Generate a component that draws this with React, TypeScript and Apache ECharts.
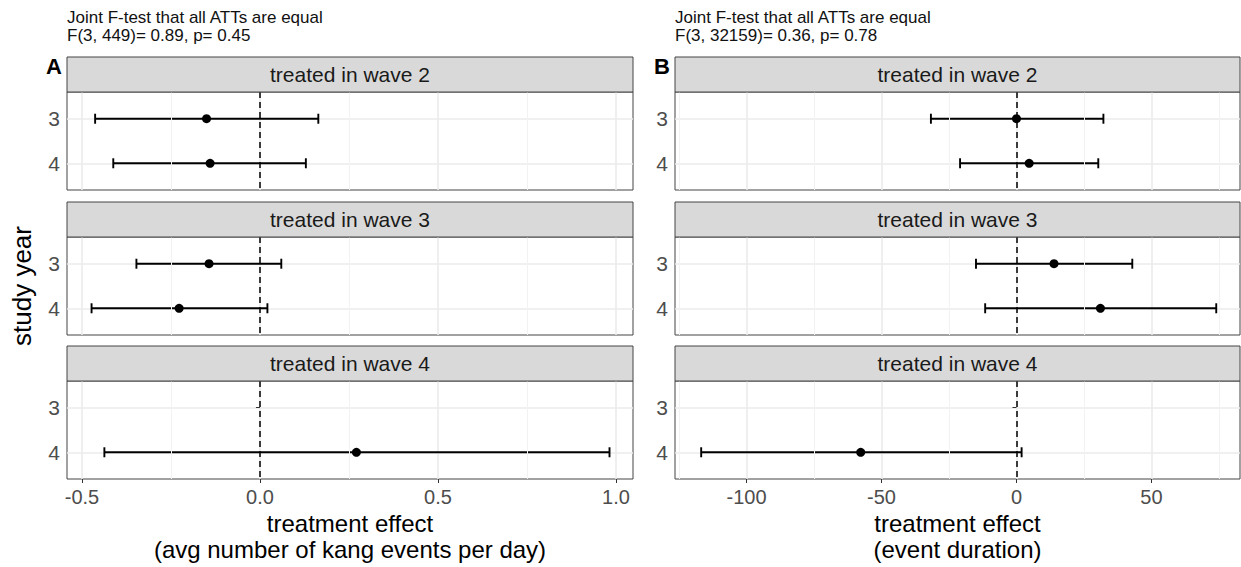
import React, { useEffect, useRef } from 'react';
import * as echarts from 'echarts';

const FONT = '"Liberation Sans", "Nimbus Sans", Arial, sans-serif';

const studyYears = [3, 4];
const waveLabels = ['treated in wave 2', 'treated in wave 3', 'treated in wave 4'];

// Panel A: avg number of kang events per day (rows: waves 2..4, columns: study year 3, 4)
const kangEstimate = [[-0.150, -0.140], [-0.143, -0.227], [null, 0.271]];
const kangLower = [[-0.463, -0.412], [-0.347, -0.473], [null, -0.437]];
const kangUpper = [[0.164, 0.129], [0.060, 0.021], [null, 0.982]];
const kangTicks = [-0.5, 0, 0.5, 1.0];
const kangMinorTicks = [-0.25, 0.25, 0.75];
const kangTitle = 'Joint F-test that all ATTs are equal\nF(3, 449)= 0.89, p= 0.45';
const kangAxisName = 'treatment effect\n(avg number of kang events per day)';

// Panel B: event duration
const durEstimate = [[0.0, 4.7], [13.9, 31.1], [null, -57.7]];
const durLower = [[-31.7, -20.9], [-15.0, -11.6], [null, -116.8]];
const durUpper = [[32.2, 30.3], [42.9, 74.0], [null, 1.9]];
const durTicks = [-100, -50, 0, 50];
const durMinorTicks = [-125, -75, -25, 25, 75];
const durTitle = 'Joint F-test that all ATTs are equal\nF(3, 32159)= 0.36, p= 0.78';
const durAxisName = 'treatment effect\n(event duration)';

const panelTops = [92, 237, 381];
const panelHeight = 98;
const stripHeight = 35;

const panels = [
  {
    tag: 'A', left: 67, width: 566, min: -0.542, max: 1.048,
    est: kangEstimate, lo: kangLower, hi: kangUpper,
    ticks: kangTicks, minor: kangMinorTicks, fmt: (v: number) => v.toFixed(1),
    title: kangTitle, axisName: kangAxisName,
  },
  {
    tag: 'B', left: 675, width: 565, min: -126.5, max: 82.8,
    est: durEstimate, lo: durLower, hi: durUpper,
    ticks: durTicks, minor: durMinorTicks, fmt: (v: number) => String(Math.round(v)),
    title: durTitle, axisName: durAxisName,
  },
];

function buildOption() {
  const grid: any[] = [];
  const xAxis: any[] = [];
  const yAxis: any[] = [];
  const series: any[] = [];
  const graphic: any[] = [];
  const title: any[] = [];

  panels.forEach((p, pi) => {
    title.push({
      text: p.title, left: p.left, top: 8, padding: 0,
      textStyle: { fontSize: 17, fontWeight: 'normal', lineHeight: 18, color: '#111', fontFamily: FONT },
    });
    graphic.push({
      type: 'text', left: p.left - 21, top: 55,
      style: { text: p.tag, fontSize: 22, fontWeight: 'bold', fill: '#000', fontFamily: FONT },
    });
    waveLabels.forEach((w, f) => {
      const idx = pi * 3 + f;
      const top = panelTops[f];
      grid.push({
        left: p.left, top, width: p.width, height: panelHeight,
        show: true, borderColor: '#444', borderWidth: 1, backgroundColor: 'transparent',
        outerBoundsMode: 'none',
      });
      const bottom = f === 2;
      xAxis.push({
        gridIndex: idx, type: 'value', min: p.min, max: p.max,
        axisLine: { show: false },
        axisTick: { show: bottom, customValues: p.ticks, length: 4, lineStyle: { color: '#333', width: 1 } },
        axisLabel: {
          show: bottom, customValues: p.ticks, formatter: (v: number) => p.fmt(v),
          color: '#4d4d4d', fontSize: 20, margin: 8, fontFamily: FONT,
        },
        splitLine: { show: true, lineStyle: { color: '#ebebeb', width: 1.6 } },
        name: bottom ? p.axisName : '',
        nameLocation: 'middle', nameGap: 31,
        nameTextStyle: { fontSize: 24, lineHeight: 26, color: '#000', fontFamily: FONT },
      });
      yAxis.push({
        gridIndex: idx, type: 'value', min: 2.4, max: 4.6, inverse: true, splitNumber: 2,
        axisLine: { show: false },
        axisTick: { show: true, customValues: studyYears, length: 4, lineStyle: { color: '#333', width: 1 } },
        axisLabel: { customValues: studyYears, color: '#4d4d4d', fontSize: 21, margin: 7, fontFamily: FONT },
        splitLine: { show: true, lineStyle: { color: '#ebebeb', width: 1.6 } },
      });

      // minor grid lines
      series.push({
        type: 'line', xAxisIndex: idx, yAxisIndex: idx, data: [], z: 1, silent: true,
        markLine: {
          silent: true, symbol: 'none', label: { show: false }, animation: false,
          lineStyle: { color: '#f2f2f2', width: 1, type: 'solid' },
          data: p.minor.map((v) => ({ xAxis: v })),
        },
      });

      const barData: any[] = [];
      const ptData: any[] = [];
      studyYears.forEach((yr, i) => {
        const lo = p.lo[f][i];
        const hi = p.hi[f][i];
        const est = p.est[f][i];
        if (lo != null && hi != null) barData.push([lo, hi, yr]);
        if (est != null) ptData.push([est, yr]);
      });

      series.push({
        type: 'custom', xAxisIndex: idx, yAxisIndex: idx, z: 3, silent: true,
        encode: { x: [0, 1], y: 2 },
        data: barData,
        renderItem: (params: any, api: any) => {
          const y = api.value(2);
          const a = api.coord([api.value(0), y]);
          const b = api.coord([api.value(1), y]);
          const h = 5;
          const style = { stroke: '#000', lineWidth: 1.9 };
          return {
            type: 'group',
            children: [
              { type: 'line', shape: { x1: a[0], y1: a[1], x2: b[0], y2: b[1] }, style },
              { type: 'line', shape: { x1: a[0], y1: a[1] - h, x2: a[0], y2: a[1] + h }, style },
              { type: 'line', shape: { x1: b[0], y1: b[1] - h, x2: b[0], y2: b[1] + h }, style },
            ],
          };
        },
      });

      series.push({
        type: 'scatter', xAxisIndex: idx, yAxisIndex: idx, z: 4, silent: true,
        symbol: 'circle', symbolSize: 9,
        itemStyle: { color: '#000', opacity: 1 },
        data: ptData,
        markLine: {
          silent: true, symbol: 'none', label: { show: false }, animation: false,
          lineStyle: { color: '#000', width: 1.5, type: [6, 4] },
          data: [{ xAxis: 0 }],
        },
      });

      // strip
      graphic.push({
        type: 'rect',
        shape: { x: p.left, y: top - stripHeight, width: p.width, height: stripHeight },
        style: { fill: '#d9d9d9', stroke: '#444', lineWidth: 1 },
        z: 10,
      });
      graphic.push({
        type: 'text',
        x: p.left + p.width / 2, y: top - stripHeight / 2,
        style: {
          text: w, fontSize: 21, fill: '#1a1a1a', fontFamily: FONT,
          align: 'center', verticalAlign: 'middle',
        },
        z: 11,
      });
    });
  });

  graphic.push({
    type: 'text', x: 22, y: 286, rotation: Math.PI / 2,
    style: {
      text: 'study year', fontSize: 26, fill: '#000', fontFamily: FONT,
      align: 'center', verticalAlign: 'middle',
    },
  });

  return {
    animation: false,
    textStyle: { fontFamily: FONT },
    title, grid, xAxis, yAxis, series, graphic,
  };
}

export default function App() {
  const ref = useRef<HTMLDivElement>(null);
  useEffect(() => {
    if (!ref.current) return;
    const chart = echarts.init(ref.current, null, { renderer: 'svg' });
    chart.setOption(buildOption() as any);
    return () => chart.dispose();
  }, []);
  return (
    <div
      ref={ref}
      style={{ position: 'absolute', left: 0, top: 0, width: 1241, height: 567, background: '#fff' }}
    />
  );
}
